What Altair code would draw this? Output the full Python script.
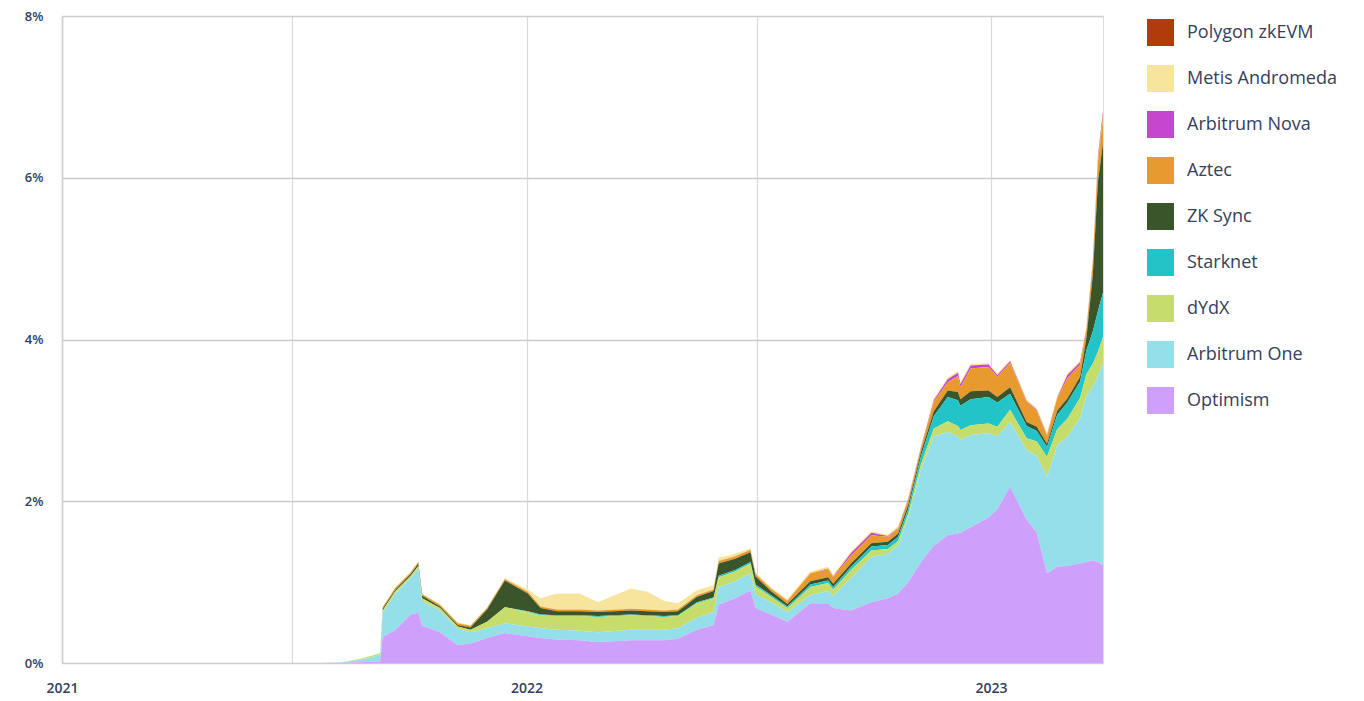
import altair as alt
import pandas as pd

dates = [
    "2021-01-01", "2021-07-23", "2021-08-08", "2021-08-23", "2021-09-08", "2021-09-10",
    "2021-09-20", "2021-10-02", "2021-10-08", "2021-10-11", "2021-10-25", "2021-11-08",
    "2021-11-18", "2021-12-01", "2021-12-15", "2022-01-02", "2022-01-12", "2022-01-25",
    "2022-02-12", "2022-02-26", "2022-03-24", "2022-04-06", "2022-04-19", "2022-04-30",
    "2022-05-15", "2022-05-28", "2022-06-01", "2022-06-14", "2022-06-26", "2022-06-30",
    "2022-07-12", "2022-07-25", "2022-08-12", "2022-08-26", "2022-08-30", "2022-09-13",
    "2022-09-29", "2022-10-12", "2022-10-20", "2022-10-28", "2022-11-07", "2022-11-17",
    "2022-11-28", "2022-12-06", "2022-12-08", "2022-12-16", "2022-12-30", "2023-01-06",
    "2023-01-16", "2023-01-29", "2023-02-06", "2023-02-14", "2023-02-22", "2023-03-02",
    "2023-03-12", "2023-03-17", "2023-03-22", "2023-03-26", "2023-03-30",
]

optimism = [
    0, 0, 0, 0.01, 0.02, 0.32, 0.41, 0.60, 0.62, 0.46, 0.38, 0.22, 0.24, 0.31, 0.37,
    0.33, 0.31, 0.29, 0.28, 0.26, 0.28, 0.28, 0.28, 0.30, 0.41, 0.47, 0.72, 0.80, 0.90,
    0.68, 0.60, 0.51, 0.74, 0.74, 0.68, 0.65, 0.75, 0.80, 0.86, 1.00, 1.25, 1.45, 1.58,
    1.60, 1.61, 1.68, 1.80, 1.90, 2.18, 1.77, 1.61, 1.11, 1.19, 1.20, 1.23, 1.25, 1.27,
    1.25, 1.21,
]
arbitrum_one = [
    0, 0, 0.005, 0.03, 0.08, 0.30, 0.45, 0.45, 0.55, 0.30, 0.27, 0.20, 0.14, 0.12, 0.12,
    0.12, 0.12, 0.12, 0.12, 0.12, 0.13, 0.13, 0.13, 0.13, 0.15, 0.16, 0.22, 0.21, 0.21,
    0.17, 0.15, 0.12, 0.10, 0.15, 0.15, 0.40, 0.56, 0.55, 0.60, 0.80, 1.14, 1.35, 1.28,
    1.20, 1.15, 1.14, 1.04, 0.90, 0.80, 0.86, 0.95, 1.19, 1.50, 1.60, 1.80, 2.05, 2.15,
    2.30, 2.50,
]
dydx = [
    0, 0, 0, 0.01, 0.02, 0.03, 0.03, 0.03, 0.03, 0.04, 0.03, 0.03, 0.03, 0.08, 0.20,
    0.18, 0.16, 0.17, 0.18, 0.19, 0.18, 0.17, 0.16, 0.15, 0.18, 0.17, 0.12, 0.12, 0.12,
    0.10, 0.07, 0.05, 0.10, 0.10, 0.08, 0.10, 0.08, 0.06, 0.05, 0.05, 0.07, 0.10, 0.13,
    0.13, 0.12, 0.12, 0.12, 0.12, 0.15, 0.15, 0.18, 0.25, 0.20, 0.22, 0.25, 0.27, 0.28,
    0.30, 0.32,
]
starknet = [
    0, 0, 0, 0, 0, 0, 0, 0, 0, 0, 0, 0, 0, 0, 0,
    0.01, 0.01, 0.01, 0.01, 0.01, 0.01, 0.01, 0.01, 0.01, 0.01, 0.01, 0.02, 0.02, 0.02,
    0.02, 0.02, 0.02, 0.03, 0.03, 0.03, 0.04, 0.05, 0.05, 0.05, 0.06, 0.10, 0.15, 0.30,
    0.32, 0.30, 0.32, 0.33, 0.30, 0.20, 0.15, 0.13, 0.12, 0.18, 0.20, 0.20, 0.30, 0.40,
    0.50, 0.55,
]
zk_sync = [
    0, 0, 0, 0, 0, 0.02, 0.02, 0.02, 0.03, 0.03, 0.02, 0.02, 0.03, 0.15, 0.33,
    0.22, 0.08, 0.05, 0.05, 0.05, 0.05, 0.05, 0.05, 0.05, 0.07, 0.08, 0.15, 0.14, 0.12,
    0.10, 0.05, 0.03, 0.04, 0.04, 0.04, 0.04, 0.04, 0.04, 0.04, 0.05, 0.05, 0.06, 0.08,
    0.10, 0.08, 0.10, 0.08, 0.07, 0.08, 0.05, 0.05, 0.04, 0.05, 0.05, 0.06, 0.15, 0.70,
    1.60, 1.85,
]
aztec = [
    0, 0, 0, 0, 0, 0.02, 0.02, 0.02, 0.02, 0.02, 0.02, 0.02, 0.02, 0.02, 0.02,
    0.02, 0.02, 0.02, 0.02, 0.02, 0.02, 0.02, 0.02, 0.02, 0.02, 0.02, 0.03, 0.03, 0.03,
    0.03, 0.03, 0.04, 0.10, 0.10, 0.08, 0.10, 0.10, 0.06, 0.06, 0.06, 0.05, 0.12, 0.10,
    0.20, 0.15, 0.28, 0.29, 0.25, 0.30, 0.25, 0.20, 0.10, 0.15, 0.25, 0.15, 0.10, 0.15,
    0.25, 0.30,
]
arbitrum_nova = [
    0, 0, 0, 0, 0, 0, 0, 0, 0, 0, 0, 0, 0, 0, 0,
    0, 0, 0, 0, 0, 0, 0, 0, 0, 0, 0, 0, 0, 0,
    0, 0, 0, 0, 0.01, 0.01, 0.03, 0.03, 0.01, 0.01, 0.01, 0.01, 0.02, 0.04,
    0.04, 0.04, 0.04, 0.03, 0.02, 0.02, 0.01, 0.01, 0.01, 0.01, 0.04, 0.03, 0.02, 0.02,
    0.02, 0.02,
]
metis_andromeda = [
    0, 0, 0, 0, 0, 0.01, 0.01, 0.01, 0.01, 0.01, 0.01, 0.01, 0.01, 0.01, 0.01,
    0.03, 0.10, 0.20, 0.20, 0.10, 0.25, 0.22, 0.12, 0.08, 0.06, 0.05, 0.04, 0.03, 0.02,
    0.02, 0.02, 0.02, 0.02, 0.02, 0.02, 0.02, 0.02, 0.02, 0.02, 0.02, 0.02, 0.02, 0.02,
    0.02, 0.02, 0.02, 0.02, 0.02, 0.02, 0.02, 0.02, 0.02, 0.02, 0.02, 0.02, 0.02, 0.02,
    0.02, 0.02,
]
polygon_zkevm = [0] * 57 + [0.03, 0.05]

series_names = [
    "Polygon zkEVM", "Metis Andromeda", "Arbitrum Nova", "Aztec", "ZK Sync",
    "Starknet", "dYdX", "Arbitrum One", "Optimism",
]
series_values = [
    polygon_zkevm, metis_andromeda, arbitrum_nova, aztec, zk_sync,
    starknet, dydx, arbitrum_one, optimism,
]
series_colors = [
    "#b13b0b", "#f8e59d", "#c746d0", "#e89a2f", "#3b552a",
    "#22c4c7", "#c6dd6b", "#94dfea", "#cfa0fb",
]

rows = []
for rank, (name, vals) in enumerate(zip(series_names, series_values)):
    for d, v in zip(dates, vals):
        rows.append({"date": d, "series": name, "value": v,
                     "stack_order": len(series_names) - 1 - rank})
df = pd.DataFrame(rows)

text_color = "#34405c"
font = "Open Sans"

x_ticks = [
    alt.DateTime(year=2021, month=1, date=1),
    alt.DateTime(year=2021, month=7, date=1),
    alt.DateTime(year=2022, month=1, date=1),
    alt.DateTime(year=2022, month=7, date=1),
    alt.DateTime(year=2023, month=1, date=1),
]

chart = alt.Chart(df).mark_area(interpolate="linear").encode(
    x=alt.X(
        "date:T",
        title=None,
        scale=alt.Scale(domain=[alt.DateTime(year=2021, month=1, date=1),
                                alt.DateTime(year=2023, month=3, date=30)], nice=False),
        axis=alt.Axis(
            values=x_ticks,
            labelExpr="month(datum.value) == 0 ? timeFormat(datum.value, '%Y') : ''",
            ticks=False,
            labelPadding=18,
            labelFontSize=14,
            labelFont=font,
            labelFontWeight=600,
            labelColor=text_color,
            gridColor="#d9d9d9",
            gridWidth=1.2,
            domainColor="#cccccc",
            labelFlush=False,
        ),
    ),
    y=alt.Y(
        "value:Q",
        stack="zero",
        title=None,
        scale=alt.Scale(domain=[0, 8], nice=False),
        axis=alt.Axis(
            values=[0, 2, 4, 6, 8],
            labelExpr="datum.value + '%'",
            ticks=False,
            labelPadding=19,
            labelFontSize=13,
            labelFont=font,
            labelFontWeight=600,
            labelColor=text_color,
            gridColor="#cccccc",
            gridWidth=1.6,
            domainColor="#cccccc",
            domainWidth=1.5,
            minExtent=49,
        ),
    ),
    color=alt.Color(
        "series:N",
        scale=alt.Scale(domain=series_names, range=series_colors),
        legend=alt.Legend(
            title=None,
            symbolType="square",
            symbolSize=729,
            symbolStrokeWidth=0,
            symbolOpacity=1,
            labelFontSize=18,
            labelFont=font,
            labelFontWeight=500,
            labelColor=text_color,
            labelOffset=13,
            rowPadding=19,
            offset=41,
            padding=3,
            labelLimit=300,
        ),
    ),
    order=alt.Order("stack_order:Q", sort="ascending"),
).properties(
    width=1041,
    height=647,
    padding={"top": 2, "left": 5, "right": 5, "bottom": 5},
).configure_view(stroke=None).configure(background="white")

chart.save("out.html", embed_options={"renderer": "svg", "actions": False})
